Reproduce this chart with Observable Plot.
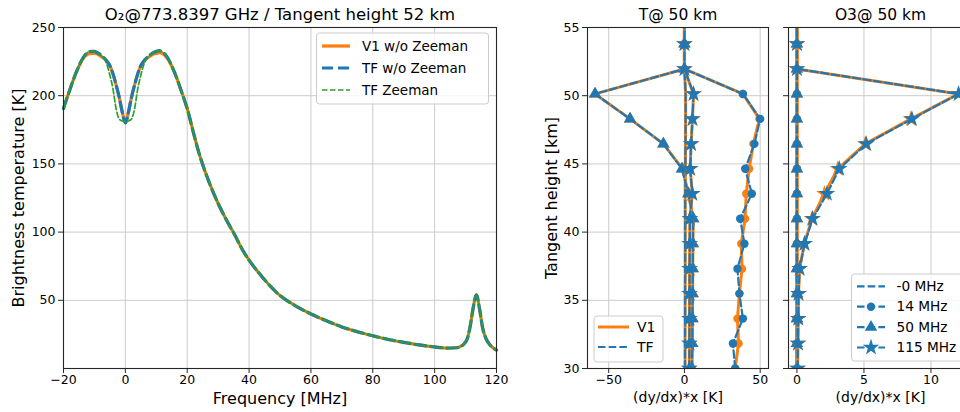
<!DOCTYPE html>
<html>
<head>
<meta charset="utf-8">
<script src="https://cdn.jsdelivr.net/npm/d3@7"></script>
<script src="https://cdn.jsdelivr.net/npm/@observablehq/plot@0.6"></script>
<style>
  body { margin: 0; background: #fff; }
  #root { position: relative; width: 960px; height: 412px; overflow: hidden; font-family: "DejaVu Sans", sans-serif; }
  #root > svg, #root > figure { position: absolute; top: 0; margin: 0; }
</style>
</head>
<body>
<div id="root"></div>
<script>
// ---------------- Data: spectrum (left panel) ----------------
const freq = [-20,-19,-18,-17,-16,-15,-14,-13,-12,-11,-10,-9,-8,-7,-6,-5,-4,-3,-2,-1,0,1,2,3,4,5,6,7,8,9,10,11,12,13,14,15,16,17,18,19,20,21,22,23,24,25,27,30,33,35,38,40,43,46,50,55,60,65,70,75,80,85,90,95,100,104,107,109,110.5,111.5,112.5,113.5,114.5,115.5,116.5,118,120];
const tbTF = [190.5,197.5,204,210.5,216.5,222,226.5,230,232,232.5,232.5,231.5,230,228,225.5,222,216,208,199,188,180,188,199,208,216,222,225.5,228,230,231.5,232.5,233,232,230,226.5,222,216.5,210.5,204,197.5,190.5,182,173,164.5,156.5,149.5,137,121,107.5,99.5,86.5,79.5,70.5,62.5,53.5,46,40,35,30.5,27,24,21.3,19.2,17.3,15.8,15,15.2,17,21.5,31,45,54,44,30,22.5,17,13.5];
const tbV1 = [190.5,197.5,204,210.5,216.5,221.5,226,229,230.5,231,231,230.5,229,227.5,225.5,222,216,208,199,188,180,188,199,208,216,222,225.5,227.5,229,230.5,231,231.5,231,229,226,221.5,216.5,210.5,204,197.5,190.5,182,173,164.5,156.5,149.5,137,121,107.5,99.5,86.5,79.5,70.5,62.5,53.5,46,40,35,30.5,27,24,21.3,19.2,17.3,15.8,15,15.2,17,21.5,31,45,54,44,30,22.5,17,13.5];
const tbTFZ = [190.5,197.5,204,210.5,216.5,222,226.5,230,232,232.5,232.5,231.5,229.5,227.5,223,215,205,190.5,183,181.5,181,181.5,183,190.5,205,215,223,227.5,229.5,231.5,232.5,233,232,230,226.5,222,216.5,210.5,204,197.5,190.5,182,173,164.5,156.5,149.5,137,121,107.5,99.5,86.5,79.5,70.5,62.5,53.5,46,40,35,30.5,27,24,21.3,19.2,17.3,15.8,15,15.2,17,21.5,31,45,54,44,30,22.5,17,13.5];
const specSeries = ["V1 w/o Zeeman", "TF w/o Zeeman", "TF Zeeman"];
const freqTicks = [-20, 0, 20, 40, 60, 80, 100, 120];
const tbTicks = [50, 100, 150, 200, 250];

// ---------------- Data: Jacobians (middle and right panels) ----------------
const heights = [30.0,31.83,33.66,35.49,37.32,39.15,40.98,42.81,44.64,46.47,48.3,50.13,51.96,53.79,55.62];
const chanNames = ["-0 MHz", "14 MHz", "50 MHz", "115 MHz"];
// Temperature Jacobian @ 50 km
const tempV1_m0  = [0.4,0.4,0.45,0.45,0.5,0.5,0.5,0.5,0.6,0.7,0.8,0.8,0,0,0];
const tempTF_m0  = [0.4,0.4,0.45,0.45,0.5,0.5,0.5,0.5,0.6,0.7,0.8,0.8,0,0,0];
const tempV1_14  = [33.5,35.7,35.0,36.3,38.0,37.5,40.0,40.8,42.7,45.5,49.5,38.6,0,0,0];
const tempTF_14  = [33.5,32.0,38.6,36.3,35.0,39.6,36.8,44.5,40.1,46.2,50.0,38.6,0,0,0];
const tempV1_50  = [5.0,5.2,5.3,5.4,5.5,5.6,5.8,2.6,-1.2,-13.9,-35.9,-59.0,0,0,0];
const tempTF_50  = [5.0,5.2,5.3,5.4,5.5,5.6,5.8,2.6,-1.7,-13.9,-35.9,-59.0,0,0,0];
const tempV1_115 = [3.2,3.3,3.3,3.4,3.4,3.5,3.6,5.2,3.8,4.4,5.3,6.0,0,0,0];
const tempTF_115 = [3.2,3.3,3.3,3.4,3.4,3.5,3.6,5.2,3.8,4.4,5.3,6.0,0,0,0];
// O3 Jacobian @ 50 km
const o3V1_m0  = [0,0,0,0,0,0,0,0,0,0,0,0,0,0,0];
const o3TF_m0  = [0,0,0,0,0,0,0,0,0,0,0,0,0,0,0];
const o3V1_14  = [0,0,0,0,0,0,0,0,0,0,0,0,0,0,0];
const o3TF_14  = [0,0,0,0,0,0,0,0,0,0,0,0,0,0,0];
const o3V1_50  = [0,0,0,0,0,0,0,0,0,0,0,0,0,0,0];
const o3TF_50  = [0,0,0,0,0,0,0,0,0,0,0,0,0,0,0];
const o3V1_115 = [0.05,0.08,0.1,0.12,0.2,0.55,1.12,2.05,3.05,5.1,8.5,12.06,0,0,0];
const o3TF_115 = [0.05,0.08,0.1,0.12,0.2,0.57,1.17,2.24,3.16,5.17,8.58,12.06,0,0,0];
const tempTicksX = [-50, 0, 50];
const o3TicksX = [0, 5, 10];
const heightTicks = [30, 35, 40, 45, 50, 55];

// ---------------- Styling ----------------
const C_ORANGE = "#ff7f0e", C_BLUE = "#1f77b4", C_GREEN = "#2ca02c";
const GRID = "#cbcbcb", SPINE = "#262626";
const FONT = "DejaVu Sans, sans-serif";
const TICKFS = 12.5;
const symbols = [null, "circle", "triangle", "star"];
const symR = {circle: 4.2, triangle: 4.6, star: 5.2};

const root = document.getElementById("root");
const baseStyle = {fontFamily: FONT, fontSize: "12.5px", color: "#000", background: "transparent", overflow: "visible"};

function label(text, opts) {
  return Plot.text([text], {text: d => d, lineAnchor: "middle", textAnchor: "middle", fill: "#000", ...opts});
}

// ---------------- Left panel ----------------
const specRows = freq.map((f, i) => ({f, v1: tbV1[i], tf: tbTF[i], tfz: tbTFZ[i]}));
const left = Plot.plot({
  width: 520, height: 412,
  marginLeft: 63, marginRight: 24, marginTop: 27, marginBottom: 44,
  style: baseStyle,
  x: {domain: [-20, 120]},
  y: {domain: [0, 250]},
  marks: [
    Plot.gridX(freqTicks, {stroke: GRID, strokeOpacity: 1, strokeWidth: 1}),
    Plot.gridY(tbTicks, {stroke: GRID, strokeOpacity: 1, strokeWidth: 1}),
    Plot.line(specRows, {x: "f", y: "v1", stroke: C_ORANGE, strokeWidth: 3.2, curve: "monotone-x"}),
    Plot.line(specRows, {x: "f", y: "tf", stroke: C_BLUE, strokeWidth: 3.2, strokeDasharray: "11,5", curve: "monotone-x"}),
    Plot.line(specRows, {x: "f", y: "tfz", stroke: C_GREEN, strokeWidth: 1.7, strokeDasharray: "5.5,2.5", curve: "monotone-x"}),
    Plot.frame({stroke: SPINE, strokeWidth: 1.1}),
    Plot.axisX(freqTicks, {tickSize: 5, tickPadding: 2, label: null, stroke: SPINE, fontSize: TICKFS, fill: "#000"}),
    Plot.axisY(tbTicks, {tickSize: 5, tickPadding: 3, label: null, stroke: SPINE, fontSize: TICKFS, fill: "#000"}),
    label("Frequency [MHz]", {frameAnchor: "bottom", dy: 30, fontSize: 16}),
    label("Brightness temperature [K]", {frameAnchor: "left", dx: -44.5, rotate: -90, fontSize: 16}),
    label("O\u2082@773.8397 GHz / Tangent height 52 km", {frameAnchor: "top", dy: -12.5, fontSize: 16.5})
  ]
});
left.style.left = "0px";
root.appendChild(left);

// ---------------- Jacobian panels ----------------
function rows(vals) { return heights.map((h, i) => ({h, v: vals[i]})); }
function jacMarks(v1Sets, tfSets) {
  const marks = [];
  chanNames.forEach((name, k) => {
    const sym = symbols[k];
    const r1 = rows(v1Sets[k]), r2 = rows(tfSets[k]);
    marks.push(Plot.line(r1, {x: "v", y: "h", stroke: C_ORANGE, strokeWidth: 3, clip: true}));
    if (sym) marks.push(Plot.dot(r1, {x: "v", y: "h", symbol: sym, r: symR[sym], fill: C_ORANGE, clip: true}));
    marks.push(Plot.line(r2, {x: "v", y: "h", stroke: C_BLUE, strokeWidth: 2.2, strokeDasharray: "7.5,3.2", clip: true}));
    if (sym) marks.push(Plot.dot(r2, {x: "v", y: "h", symbol: sym, r: symR[sym], fill: C_BLUE, clip: true}));
  });
  return marks;
}

const mid = Plot.plot({
  width: 250, height: 412,
  marginLeft: 57, marginRight: 12, marginTop: 27, marginBottom: 44,
  style: baseStyle,
  x: {domain: [-64, 55.5]},
  y: {domain: [30, 55]},
  marks: [
    Plot.gridX(tempTicksX, {stroke: GRID, strokeOpacity: 1, strokeWidth: 1}),
    Plot.gridY(heightTicks, {stroke: GRID, strokeOpacity: 1, strokeWidth: 1}),
    ...jacMarks([tempV1_m0, tempV1_14, tempV1_50, tempV1_115], [tempTF_m0, tempTF_14, tempTF_50, tempTF_115]),
    Plot.frame({stroke: SPINE, strokeWidth: 1.1}),
    Plot.axisX(tempTicksX, {tickSize: 5, tickPadding: 2, label: null, stroke: SPINE, fontSize: TICKFS, fill: "#000"}),
    Plot.axisY(heightTicks, {tickSize: 5, tickPadding: 3, label: null, stroke: SPINE, fontSize: TICKFS, fill: "#000"}),
    label("(dy/dx)*x [K]", {frameAnchor: "bottom", dy: 29, fontSize: 14}),
    label("Tangent height [km]", {frameAnchor: "left", dx: -36, rotate: -90, fontSize: 16}),
    label("T@ 50 km", {frameAnchor: "top", dy: -12.5, fontSize: 15.5})
  ]
});
mid.style.left = "530px";
root.appendChild(mid);

const right = Plot.plot({
  width: 192, height: 412,
  marginLeft: 8, marginRight: 0, marginTop: 27, marginBottom: 44,
  style: baseStyle,
  x: {domain: [-0.63, 13.1]},
  y: {domain: [30, 55]},
  marks: [
    Plot.gridX(o3TicksX, {stroke: GRID, strokeOpacity: 1, strokeWidth: 1}),
    Plot.gridY(heightTicks, {stroke: GRID, strokeOpacity: 1, strokeWidth: 1}),
    ...jacMarks([o3V1_m0, o3V1_14, o3V1_50, o3V1_115], [o3TF_m0, o3TF_14, o3TF_50, o3TF_115]),
    Plot.frame({stroke: SPINE, strokeWidth: 1.1}),
    Plot.axisX(o3TicksX, {tickSize: 5, tickPadding: 2, label: null, stroke: SPINE, fontSize: TICKFS, fill: "#000"}),
    Plot.axisY(heightTicks, {tickSize: 5, tickFormat: () => "", label: null, stroke: SPINE}),
    label("(dy/dx)*x [K]", {frameAnchor: "bottom", dy: 29, fontSize: 14}),
    label("O3@ 50 km", {frameAnchor: "top", dy: -12.5, fontSize: 15.5})
  ]
});
right.style.left = "780px";
root.appendChild(right);

// ---------------- Legends (overlay) ----------------
const ov = d3.create("svg").attr("width", 960).attr("height", 412)
  .style("position", "absolute").style("left", "0px").style("top", "0px")
  .style("font-family", FONT);

function legend(box, items, fontSize) {
  const g = ov.append("g");
  g.append("rect").attr("x", box.x).attr("y", box.y).attr("width", box.w).attr("height", box.h)
    .attr("rx", 3).attr("fill", "#fff").attr("fill-opacity", 0.8).attr("stroke", "#cccccc").attr("stroke-width", 1);
  items.forEach((it, i) => {
    const y = box.firstY + i * box.gap;
    g.append("line").attr("x1", box.sx0).attr("x2", box.sx1).attr("y1", y).attr("y2", y)
      .attr("stroke", it.color).attr("stroke-width", it.width).attr("stroke-dasharray", it.dash || null);
    if (it.symbol) {
      const type = {circle: d3.symbolCircle, triangle: d3.symbolTriangle, star: d3.symbolStar}[it.symbol];
      const r = symR[it.symbol];
      g.append("path").attr("d", d3.symbol(type, Math.PI * r * r)())
        .attr("transform", `translate(${(box.sx0 + box.sx1) / 2},${y})`).attr("fill", it.color);
    }
    g.append("text").attr("x", box.tx).attr("y", y).attr("dy", "0.35em")
      .attr("font-size", fontSize).attr("fill", "#000").text(it.label);
  });
}

legend({x: 316.5, y: 33, w: 172, h: 71, firstY: 46, gap: 22, sx0: 322, sx1: 350, tx: 362}, [
  {label: specSeries[0], color: C_ORANGE, width: 3.2},
  {label: specSeries[1], color: C_BLUE, width: 3.2, dash: "11,5"},
  {label: specSeries[2], color: C_GREEN, width: 1.7, dash: "5.5,2.5"}
], 13.5);

legend({x: 594, y: 316, w: 69, h: 46, firstY: 327, gap: 20, sx0: 598, sx1: 629, tx: 637}, [
  {label: "V1", color: C_ORANGE, width: 3},
  {label: "TF", color: C_BLUE, width: 2.2, dash: "7.5,3.2"}
], 14);

legend({x: 851.5, y: 274, w: 120, h: 87, firstY: 286.3, gap: 20.4, sx0: 857, sx1: 885, tx: 896.5},
  chanNames.map((name, k) => ({label: name, color: C_BLUE, width: 2.2, dash: "7.5,3.2", symbol: symbols[k]})), 13.7);

root.appendChild(ov.node());
</script>
</body>
</html>
